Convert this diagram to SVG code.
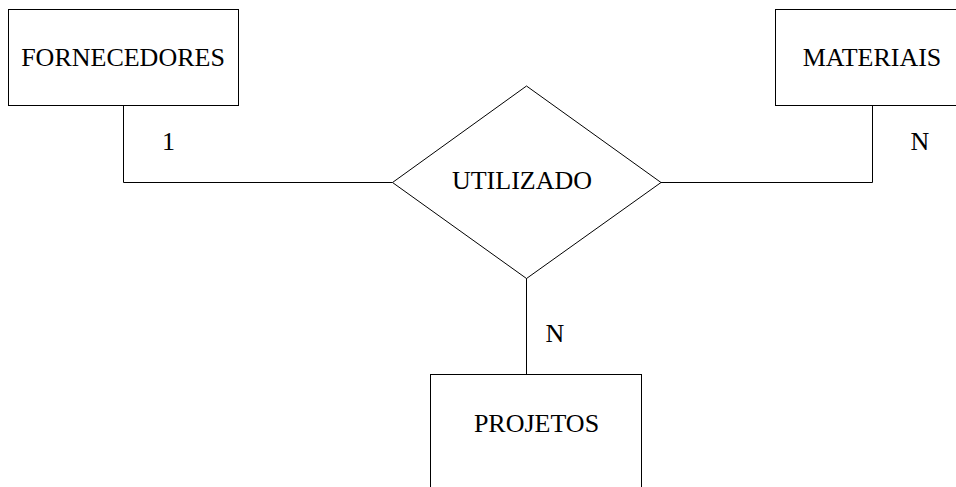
<svg xmlns="http://www.w3.org/2000/svg" width="956" height="487" viewBox="0 0 956 487">
  <style>
    .shape { fill: #ffffff; stroke: #000000; stroke-width: 1; }
    .link { fill: none; stroke: #000000; stroke-width: 1; }
    .label { font-family: "Liberation Serif", "Times New Roman", serif; font-size: 26px; fill: #000000; }
    .card { font-family: "Liberation Serif", "Times New Roman", serif; font-size: 26px; fill: #000000; }
  </style>
  <rect width="956" height="487" fill="#ffffff"/>

  <!-- connectors between entities and the relationship -->
  <g id="connectors">
    <polyline class="link" points="123.5,105.5 123.5,182.5 392.5,182.5"/>
    <polyline class="link" points="872.5,105.5 872.5,182.5 661,182.5"/>
    <line class="link" x1="526.5" y1="278" x2="526.5" y2="375"/>
  </g>

  <g id="fornecedores">
    <rect class="shape" x="8.5" y="9.5" width="230" height="96"/>
    <text class="label" x="123" y="66" text-anchor="middle">FORNECEDORES</text>
  </g>

  <g id="materiais">
    <rect class="shape" x="775.5" y="9.5" width="196" height="96"/>
    <text class="label" x="872" y="66" text-anchor="middle">MATERIAIS</text>
  </g>

  <g id="utilizado">
    <polygon class="shape" points="526.5,86 661,182.5 526.5,278.5 392.5,182.5"/>
    <text class="label" x="522" y="189" text-anchor="middle">UTILIZADO</text>
  </g>

  <g id="projetos">
    <rect class="shape" x="430.5" y="374.5" width="211" height="130"/>
    <text class="label" x="536.5" y="432" text-anchor="middle">PROJETOS</text>
  </g>

  <!-- cardinality labels -->
  <g id="cardinalities">
    <text class="card" x="168.5" y="150" text-anchor="middle">1</text>
    <text class="card" x="920" y="150" text-anchor="middle">N</text>
    <text class="card" x="555" y="342" text-anchor="middle">N</text>
  </g>
</svg>
